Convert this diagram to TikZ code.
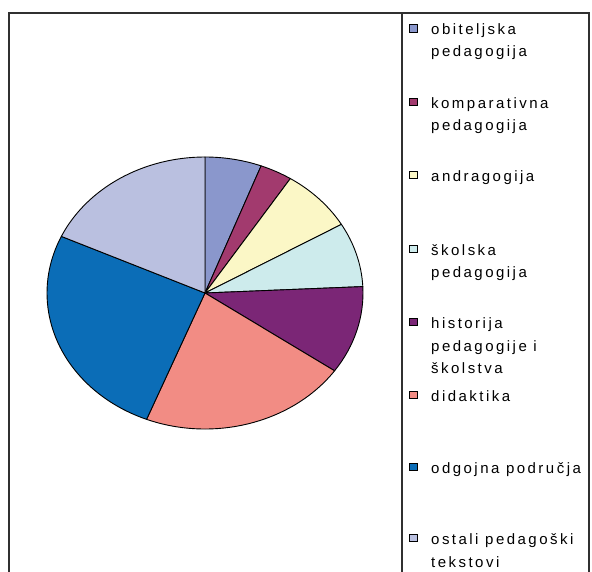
\documentclass[tikz,border=0pt]{standalone}
\usepackage{fontspec}
\setmainfont{Liberation Sans}
\newfontfamily\legfont[LetterSpace=16.5]{Liberation Sans}
\definecolor{cObit}{HTML}{8A97CC}
\definecolor{cKomp}{HTML}{A23A6E}
\definecolor{cAndr}{HTML}{FBF7C6}
\definecolor{cSkol}{HTML}{CDEBEC}
\definecolor{cHist}{HTML}{7B2676}
\definecolor{cDid}{HTML}{F28C84}
\definecolor{cOdg}{HTML}{0B6DB7}
\definecolor{cOst}{HTML}{BAC0E0}
\definecolor{frameC}{HTML}{303030}
\tikzset{
  slice/.style={draw=black, line width=0.9pt, line join=round},
  framel/.style={draw=frameC, line width=1.6pt},
  marker/.style={draw=black, line width=0.9pt, minimum size=7.5pt, inner sep=0pt},
  legtext/.style={font=\fontsize{15}{22.5}\legfont, align=left, anchor=base west, inner sep=0pt},
}
\newcommand{\pieslice}[3]{%
  \filldraw[slice, fill=#3] (205,-293) -- ({205+158*cos(#1)},{-293+136*sin(#1)})
    arc[start angle=#1, end angle=#2, x radius=158, y radius=136] -- cycle;}
\begin{document}
\begin{tikzpicture}[x=1pt,y=1pt]
\useasboundingbox (0,0) rectangle (592,-572);
\fill[white] (0,0) rectangle (592,-572);
% frame
\draw[framel] (9,-572) -- (9,-13) -- (589,-13) -- (589,-572);
\draw[framel] (402,-13) -- (402,-572);
% pie
\pieslice{90}{69.2}{cObit}
\pieslice{69.2}{57.3}{cKomp}
\pieslice{57.3}{30.3}{cAndr}
\pieslice{30.3}{2.7}{cSkol}
\pieslice{2.7}{-34.9}{cHist}
\pieslice{-34.9}{-111.7}{cDid}
\pieslice{-111.7}{-204.6}{cOdg}
\pieslice{-204.6}{-270}{cOst}
% legend (node base = baseline of last line)
\node[marker, fill=cObit] (m1) at (413.5,-28.5) {};
\node[legtext] (t1) at (431,-57) {obiteljska\\pedagogija};
\node[marker, fill=cKomp] (m2) at (413.5,-102) {};
\node[legtext] (t2) at (431,-131) {komparativna\\pedagogija};
\node[marker, fill=cAndr] (m3) at (413.5,-175) {};
\node[legtext] (t3) at (431,-181.5) {andragogija};
\node[marker, fill=cSkol] (m4) at (413.5,-249) {};
\node[legtext] (t4) at (431,-278) {školska\\pedagogija};
\node[marker, fill=cHist] (m5) at (413.5,-322) {};
\node[legtext] (t5) at (431,-373.5) {historija\\pedagogije i\\školstva};
\node[marker, fill=cDid] (m6) at (413.5,-395) {};
\node[legtext] (t6) at (431,-401.5) {didaktika};
\node[marker, fill=cOdg] (m7) at (413.5,-467) {};
\node[legtext] (t7) at (431,-473.5) {odgojna područja};
\node[marker, fill=cOst] (m8) at (413.5,-538) {};
\node[legtext] (t8) at (431,-567) {ostali pedagoški\\tekstovi};
\end{tikzpicture}
\end{document}
